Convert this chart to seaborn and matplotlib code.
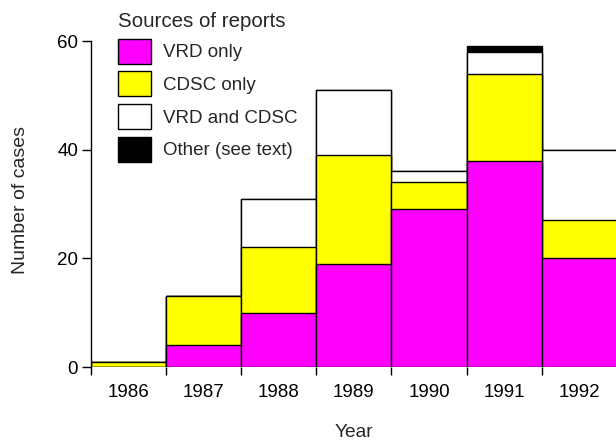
import matplotlib
matplotlib.use("Agg")
import matplotlib.pyplot as plt
from matplotlib.patches import Patch
import numpy as np
import seaborn as sns

# Cases per year, split by source of report
years = ["1986", "1987", "1988", "1989", "1990", "1991", "1992"]
vrd_only = [0, 4, 10, 19, 29, 38, 20]
cdsc_only = [1, 9, 12, 20, 5, 16, 7]
vrd_and_cdsc = [0, 0, 9, 12, 2, 4, 13]
other = [0, 0, 0, 0, 0, 1, 0]

series_labels = ["VRD only", "CDSC only", "VRD and CDSC", "Other (see text)"]
series_colors = ["#ff00ff", "#ffff00", "#ffffff", "#000000"]
y_ticks = [0, 20, 40, 60]

sns.set_style("ticks")
plt.rcParams["font.family"] = ["Liberation Sans", "DejaVu Sans"]
plt.rcParams["font.size"] = 13.5

fig = plt.figure(figsize=(6.16, 4.41), dpi=100)
W, H = 616, 441
ax = fig.add_axes([90.5 / W, (H - 367) / H, 526.5 / W, 326 / H])

# Stack the series: draw cumulative totals from the top layer down
layers = [vrd_only, cdsc_only, vrd_and_cdsc, other]
cum = np.cumsum(np.array(layers), axis=0)
for level in range(len(layers) - 1, -1, -1):
    sns.barplot(x=years, y=cum[level], color=series_colors[level],
                saturation=1, width=1, edgecolor="black", linewidth=1.0,
                errorbar=None, order=years, ax=ax)

ax.set_xlim(-0.5, len(years) - 0.5)
ax.set_ylim(0, 60)

# y axis: line only between first and last tick
for side in ["top", "right", "bottom"]:
    ax.spines[side].set_visible(False)
ax.spines["left"].set_bounds(0, 60)
ax.spines["left"].set_linewidth(1.0)
ax.spines["left"].set_color("black")
ax.set_yticks(y_ticks)
ax.tick_params(axis="y", length=6.5, width=1.0, pad=2.5, colors="black",
               labelsize=13.5)

# x axis: tick marks on the bar boundaries, labels under the bar centres
ax.set_xticks(np.arange(len(years)))
ax.set_xticklabels(years)
ax.set_xticks(np.arange(len(years) + 1) - 0.5, minor=True)
ax.tick_params(axis="x", which="major", length=0, pad=12, labelsize=13.5,
               colors="black")
ax.tick_params(axis="x", which="minor", length=5.8, width=1.0, color="black")

ax.set_xlabel("Year", fontsize=13.8, va="baseline")
ax.xaxis.set_label_coords(0.5, (367 - 436.7) / 326)
ax.set_ylabel("")
fig.text(20.5 / W, 1 - 200 / H, "Number of cases", rotation=90,
         ha="center", va="center", fontsize=14)

fs_px = 13.5 * 100 / 72
handles = [Patch(facecolor=c, edgecolor="black", linewidth=1.0)
           for c in series_colors]
leg = fig.legend(handles, series_labels, title="Sources of reports",
                 loc="upper left", bbox_to_anchor=(117.7 / W, 1 - 12 / H),
                 frameon=False, fontsize=13.5, title_fontsize=14.8,
                 handlelength=33 / fs_px, handleheight=1.674,
                 handletextpad=12 / fs_px, labelspacing=7.7 / fs_px,
                 borderpad=0, borderaxespad=0, alignment="left")

fig.savefig("out.png", dpi=100)
